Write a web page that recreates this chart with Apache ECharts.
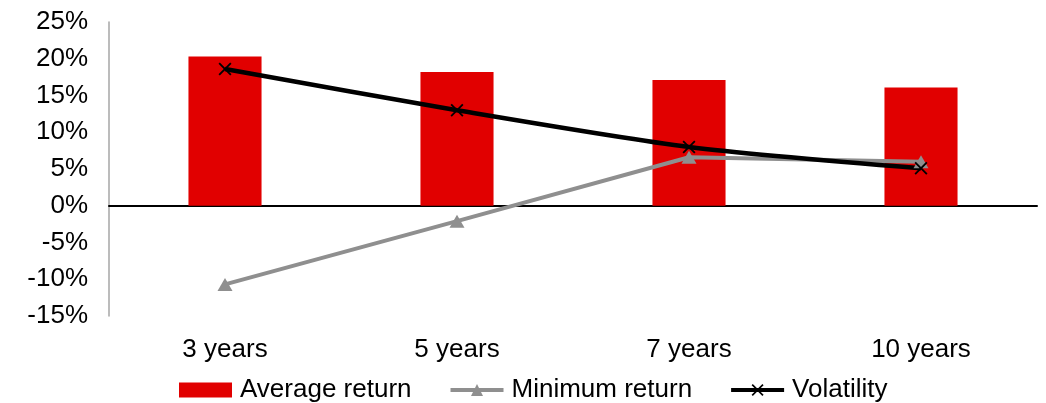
<!DOCTYPE html>
<html>
<head>
<meta charset="utf-8">
<style>
  html, body { margin: 0; padding: 0; background: #fff; }
  #chart { width: 1046px; height: 403px; }
</style>
<script src="https://cdn.jsdelivr.net/npm/echarts@6/dist/echarts.min.js"></script>
</head>
<body>
<div id="chart"></div>
<script>
// Holding period categories and returns (in %)
const categories = ['3 years', '5 years', '7 years', '10 years'];
const averageReturn = [20.3, 18.2, 17.1, 16.1];
const minimumReturn = [-10.7, -2.1, 6.6, 6.0];
const volatility = [18.6, 13.0, 8.0, 5.1];
const yTicks = { min: -15, max: 25, step: 5 };

const FONT = '"Liberation Sans", Arial, sans-serif';
const crossPath = 'path://M0,1L1,0L5,4L9,0L10,1L6,5L10,9L9,10L5,6L1,10L0,9L4,5Z';

const chart = echarts.init(document.getElementById('chart'), null, { renderer: 'canvas' });

chart.setOption({
  animation: false,
  backgroundColor: '#ffffff',
  textStyle: { fontFamily: FONT, color: '#000' },
  grid: { left: 109, right: 9, top: 22, bottom: 87, containLabel: false },
  legend: {
    bottom: -5,
    left: 174,
    itemWidth: 53,
    itemHeight: 15,
    itemGap: 37,
    textStyle: { fontFamily: FONT, fontSize: 26, color: '#000', padding: [0, 0, 0, 3] },
    data: [
      { name: 'Average return', icon: 'rect' },
      { name: 'Minimum return', lineStyle: { width: 4 } },
      { name: 'Volatility', lineStyle: { width: 4 } }
    ]
  },
  xAxis: [
    {
      type: 'category',
      data: categories,
      axisLine: { show: false, onZero: false },
      axisTick: { show: false },
      axisLabel: { fontFamily: FONT, fontSize: 26, color: '#000', margin: 21 }
    },
    {
      type: 'category',
      data: categories,
      axisLine: { show: true, onZero: true, lineStyle: { color: '#000', width: 2 } },
      axisTick: { show: false },
      axisLabel: { show: false }
    }
  ],
  yAxis: {
    type: 'value',
    min: yTicks.min,
    max: yTicks.max,
    interval: yTicks.step,
    axisLine: { show: true, lineStyle: { color: '#a6a6a6', width: 1.5 } },
    axisTick: { show: false },
    splitLine: { show: false },
    axisLabel: {
      fontFamily: FONT, fontSize: 26, color: '#000', margin: 21,
      formatter: '{value}%'
    }
  },
  series: [
    {
      name: 'Average return',
      type: 'bar',
      data: averageReturn,
      barWidth: '31.5%',
      itemStyle: { color: '#e10000' }
    },
    {
      name: 'Minimum return',
      type: 'line',
      data: minimumReturn,
      symbol: 'triangle',
      symbolSize: [15, 13],
      showAllSymbol: true,
      lineStyle: { color: '#8f8f8f', width: 4 },
      itemStyle: { color: '#8f8f8f' }
    },
    {
      name: 'Volatility',
      type: 'line',
      data: volatility,
      smooth: 0.25,
      symbol: crossPath,
      symbolSize: 13,
      showAllSymbol: true,
      lineStyle: { color: '#000', width: 4.5 },
      itemStyle: { color: '#000' }
    }
  ]
});
</script>
</body>
</html>
